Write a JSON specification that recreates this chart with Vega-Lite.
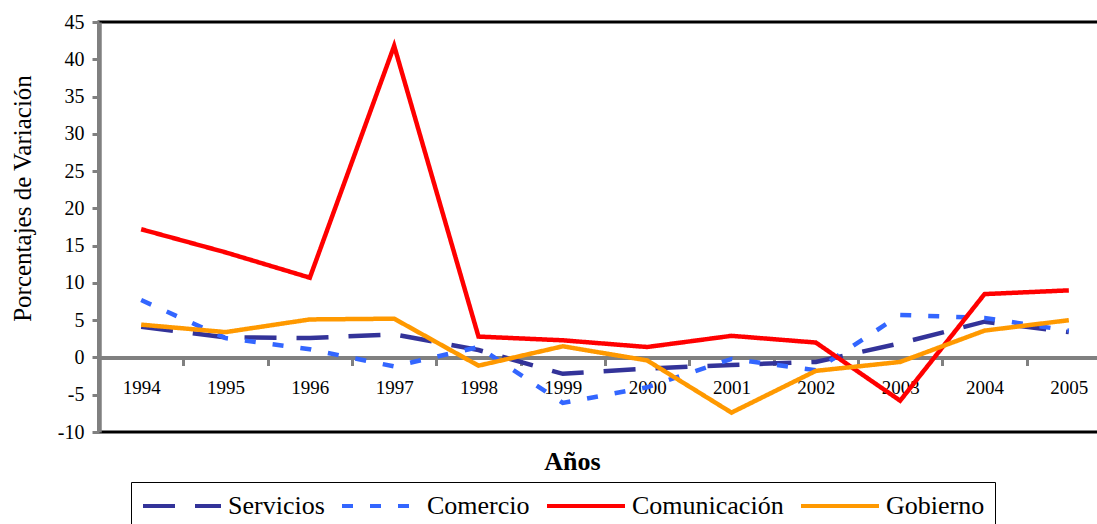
{
  "$schema": "https://vega.github.io/schema/vega-lite/v6.json",
  "width": 1012,
  "height": 410,
  "autosize": {"type": "none"},
  "padding": {"left": 99, "top": 22, "right": 0, "bottom": 92},
  "background": "white",
  "config": {
    "view": {"stroke": "#000000", "strokeWidth": 3},
    "font": "Liberation Serif, Times New Roman, serif"
  },
  "data": {
    "values": [
      {"anio": "1994", "serie": "Servicios", "valor": 4.1},
      {"anio": "1995", "serie": "Servicios", "valor": 2.7},
      {"anio": "1996", "serie": "Servicios", "valor": 2.6},
      {"anio": "1997", "serie": "Servicios", "valor": 3.1},
      {"anio": "1998", "serie": "Servicios", "valor": 1.0},
      {"anio": "1999", "serie": "Servicios", "valor": -2.2},
      {"anio": "2000", "serie": "Servicios", "valor": -1.5},
      {"anio": "2001", "serie": "Servicios", "valor": -1.0},
      {"anio": "2002", "serie": "Servicios", "valor": -0.6},
      {"anio": "2003", "serie": "Servicios", "valor": 1.9},
      {"anio": "2004", "serie": "Servicios", "valor": 4.8},
      {"anio": "2005", "serie": "Servicios", "valor": 3.4},
      {"anio": "1994", "serie": "Comercio", "valor": 7.7},
      {"anio": "1995", "serie": "Comercio", "valor": 2.6},
      {"anio": "1996", "serie": "Comercio", "valor": 1.1},
      {"anio": "1997", "serie": "Comercio", "valor": -1.2},
      {"anio": "1998", "serie": "Comercio", "valor": 1.4},
      {"anio": "1999", "serie": "Comercio", "valor": -6.1},
      {"anio": "2000", "serie": "Comercio", "valor": -4.0},
      {"anio": "2001", "serie": "Comercio", "valor": -0.2},
      {"anio": "2002", "serie": "Comercio", "valor": -1.7},
      {"anio": "2003", "serie": "Comercio", "valor": 5.7},
      {"anio": "2004", "serie": "Comercio", "valor": 5.3},
      {"anio": "2005", "serie": "Comercio", "valor": 3.6},
      {"anio": "1994", "serie": "Comunicación", "valor": 17.2},
      {"anio": "1995", "serie": "Comunicación", "valor": 14.1},
      {"anio": "1996", "serie": "Comunicación", "valor": 10.7},
      {"anio": "1997", "serie": "Comunicación", "valor": 41.8},
      {"anio": "1998", "serie": "Comunicación", "valor": 2.8},
      {"anio": "1999", "serie": "Comunicación", "valor": 2.3},
      {"anio": "2000", "serie": "Comunicación", "valor": 1.4},
      {"anio": "2001", "serie": "Comunicación", "valor": 2.9},
      {"anio": "2002", "serie": "Comunicación", "valor": 2.0},
      {"anio": "2003", "serie": "Comunicación", "valor": -5.8},
      {"anio": "2004", "serie": "Comunicación", "valor": 8.5},
      {"anio": "2005", "serie": "Comunicación", "valor": 9.0},
      {"anio": "1994", "serie": "Gobierno", "valor": 4.4},
      {"anio": "1995", "serie": "Gobierno", "valor": 3.4},
      {"anio": "1996", "serie": "Gobierno", "valor": 5.1},
      {"anio": "1997", "serie": "Gobierno", "valor": 5.2},
      {"anio": "1998", "serie": "Gobierno", "valor": -1.1},
      {"anio": "1999", "serie": "Gobierno", "valor": 1.5},
      {"anio": "2000", "serie": "Gobierno", "valor": -0.4},
      {"anio": "2001", "serie": "Gobierno", "valor": -7.4},
      {"anio": "2002", "serie": "Gobierno", "valor": -1.8},
      {"anio": "2003", "serie": "Gobierno", "valor": -0.6},
      {"anio": "2004", "serie": "Gobierno", "valor": 3.6},
      {"anio": "2005", "serie": "Gobierno", "valor": 5.0}
    ]
  },
  "mark": {"type": "line", "strokeWidth": 4.5, "strokeCap": "butt"},
  "encoding": {
    "x": {
      "field": "anio",
      "type": "ordinal",
      "scale": {"type": "band", "paddingInner": 0, "paddingOuter": 0},
      "axis": {
        "title": "Años",
        "titleFont": "Liberation Serif, Times New Roman, serif",
        "titleFontSize": 26,
        "titleFontWeight": "bold",
        "titleColor": "#000000",
        "titleX": 473,
        "titleY": 104,
        "titleBaseline": "middle",
        "titleAlign": "center",
        "offset": -74.5,
        "tickBand": "extent",
        "labelAngle": 0,
        "labelFont": "Liberation Serif, Times New Roman, serif",
        "labelFontSize": 19,
        "labelColor": "#000000",
        "labelPadding": 13,
        "domainColor": "#808080",
        "domainWidth": 4,
        "tickColor": "#808080",
        "tickWidth": 3,
        "tickSize": 8,
        "grid": false
      }
    },
    "y": {
      "field": "valor",
      "type": "quantitative",
      "scale": {"domain": [-10, 45], "nice": false, "zero": false},
      "axis": {
        "title": "Porcentajes de Variación",
        "titleFont": "Liberation Serif, Times New Roman, serif",
        "titleFontSize": 25,
        "titleFontWeight": "normal",
        "titleColor": "#000000",
        "titleX": -77,
        "titleY": 176,
        "titleAngle": 270,
        "titleAlign": "center",
        "titleBaseline": "middle",
        "values": [-10, -5, 0, 5, 10, 15, 20, 25, 30, 35, 40, 45],
        "labelExpr": "'' + datum.value",
        "labelFont": "Liberation Serif, Times New Roman, serif",
        "labelFontSize": 20,
        "labelColor": "#000000",
        "labelPadding": 8,
        "domainColor": "#808080",
        "domainWidth": 4.5,
        "tickColor": "#808080",
        "tickWidth": 3,
        "tickSize": 7,
        "grid": false
      }
    },
    "color": {
      "field": "serie",
      "type": "nominal",
      "title": null,
      "sort": ["Servicios", "Comercio", "Comunicación", "Gobierno"],
      "scale": {
        "domain": ["Servicios", "Comercio", "Comunicación", "Gobierno"],
        "range": ["#333399", "#3366FF", "#FF0000", "#FF9900"]
      },
      "legend": {
        "orient": "none",
        "legendX": 32,
        "legendY": 460,
        "direction": "horizontal",
        "title": null,
        "symbolType": "stroke",
        "symbolSize": 6084,
        "symbolStrokeWidth": 4,
        "clipHeight": 28,
        "labelFont": "Liberation Serif, Times New Roman, serif",
        "labelFontSize": 26,
        "labelColor": "#000000",
        "labelOffset": 5,
        "columnPadding": 15,
        "padding": 10,
        "strokeColor": "#000000",
        "fillColor": "#ffffff"
      }
    },
    "strokeDash": {
      "field": "serie",
      "type": "nominal",
      "title": null,
      "sort": ["Servicios", "Comercio", "Comunicación", "Gobierno"],
      "scale": {
        "domain": ["Servicios", "Comercio", "Comunicación", "Gobierno"],
        "range": [[32, 20], [11, 17], [1, 0], [1, 0]]
      }
    }
  }
}
